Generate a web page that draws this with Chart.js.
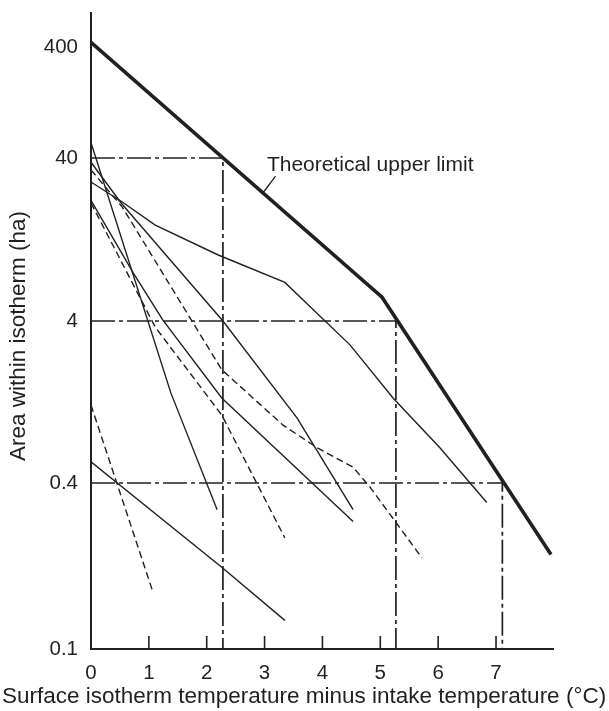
<!DOCTYPE html>
<html>
<head>
<meta charset="utf-8">
<script src="https://cdn.jsdelivr.net/npm/chart.js@4"></script>
<style>
  html, body { margin: 0; padding: 0; background: #fff; }
  #wrap { width: 609px; height: 711px; position: relative; }
</style>
</head>
<body>
<div id="wrap"><canvas id="chart"></canvas></div>
<script>
// --- Axis ticks ---
const X_TICKS = [0, 1, 2, 3, 4, 5, 6, 7];
const Y_TICKS = [0.1, 0.4, 4, 40, 400];

// --- Theoretical upper limit (thick line) ---
const LIMIT_X = [0, 5.03, 7.95];
const LIMIT_Y = [440, 5.6, 0.22];

// --- Measured curves, solid ---
const SOLID_1_X = [0, 0.54, 1.11, 2.19, 3.35, 4.48, 5.22, 6.03, 6.84];
const SOLID_1_Y = [28.5, 21.5, 15.5, 10.2, 6.9, 2.84, 1.34, 0.66, 0.34];
const SOLID_2_X = [0, 1.38, 2.18];
const SOLID_2_Y = [55, 1.44, 0.32];
const SOLID_3_X = [0, 0.52, 2.28, 3.56, 4.53];
const SOLID_3_Y = [37.7, 21.2, 4.0, 1.01, 0.32];
const SOLID_4_X = [0, 0.73, 1.24, 2.26, 4.53];
const SOLID_4_Y = [22, 7.9, 4.06, 1.34, 0.29];
const SOLID_5_X = [0, 2.26, 3.35];
const SOLID_5_Y = [0.54, 0.198, 0.127];

// --- Measured curves, dashed ---
const DASH_1_X = [0, 1.07];
const DASH_1_Y = [1.21, 0.161];
const DASH_2_X = [0, 1.11, 2.26, 3.35];
const DASH_2_Y = [21.2, 3.67, 1.05, 0.253];
const DASH_3_X = [0, 0.54, 2.26, 3.32, 3.91, 4.53, 4.82, 5.72];
const DASH_3_Y = [33.8, 20, 2.0, 0.91, 0.66, 0.50, 0.387, 0.214];

// --- Dash-dot reading lines (area level -> temperature) ---
const READ_Y = [40, 4, 0.4];
const READ_X = [2.28, 5.27, 7.11];

// --- Texts ---
const X_TITLE = 'Surface isotherm temperature minus intake temperature (°C)';
const Y_TITLE = 'Area within isotherm (ha)';
const LIMIT_LABEL = 'Theoretical upper limit';
const LIMIT_LABEL_AT = { x: 3.04, y: 36 };
const LIMIT_LEADER = [[2.97, 24.4], [3.19, 31]];

const INK = '#231f20';
const FONT = '"Liberation Sans", Arial, Helvetica, sans-serif';

// the printed y axis is log-like but each decade gets its own height
const Y_STOPS = [0, 0.261, 0.5157, 0.772, 0.9465];

class StretchedLogScale extends Chart.LinearScale {
    static id = 'stretchedLog';
    static defaults = {};

    buildTicks() {
        return Y_TICKS.map(v => ({ value: v }));
    }
    toDecimal(v) {
        const L = Y_TICKS.map(Math.log10);
        const lv = Math.log10(v);
        let i = 0;
        while (i < L.length - 2 && lv > L[i + 1]) i++;
        const t = (lv - L[i]) / (L[i + 1] - L[i]);
        return Y_STOPS[i] + t * (Y_STOPS[i + 1] - Y_STOPS[i]);
    }
    getPixelForValue(v) {
        if (v === null || !(v > 0)) return NaN;
        return this.getPixelForDecimal(this.toDecimal(v));
    }
    getValueForPixel(p) {
        const d = this.getDecimalForPixel(p);
        const L = Y_TICKS.map(Math.log10);
        let i = 0;
        while (i < Y_STOPS.length - 2 && d > Y_STOPS[i + 1]) i++;
        const t = (d - Y_STOPS[i]) / (Y_STOPS[i + 1] - Y_STOPS[i]);
        return Math.pow(10, L[i] + t * (L[i + 1] - L[i]));
    }
}
Chart.register(StretchedLogScale);

const pts = (xs, ys) => xs.map((x, i) => ({ x, y: ys[i] }));
const solid = data => ({ data, borderColor: INK, borderWidth: 1.4, pointRadius: 0, tension: 0 });
const dashed = data => ({ data, borderColor: INK, borderWidth: 1.4, borderDash: [7, 4], pointRadius: 0, tension: 0 });

const datasets = [
    { data: pts(LIMIT_X, LIMIT_Y), borderColor: INK, borderWidth: 3.6, pointRadius: 0, borderJoinStyle: 'miter' },
    solid(pts(SOLID_1_X, SOLID_1_Y)),
    solid(pts(SOLID_2_X, SOLID_2_Y)),
    solid(pts(SOLID_3_X, SOLID_3_Y)),
    solid(pts(SOLID_4_X, SOLID_4_Y)),
    solid(pts(SOLID_5_X, SOLID_5_Y)),
    dashed(pts(DASH_1_X, DASH_1_Y)),
    dashed(pts(DASH_2_X, DASH_2_Y)),
    dashed(pts(DASH_3_X, DASH_3_Y)),
];
READ_Y.forEach((yv, i) => {
    datasets.push({
        data: [{ x: 0, y: yv }, { x: READ_X[i], y: yv }, { x: READ_X[i], y: Y_TICKS[0] }],
        borderColor: INK, borderWidth: 1.7, borderDash: [24, 4, 4, 4], pointRadius: 0
    });
});

// inward x ticks, the label with its leader, and the two axis titles
const decorations = {
    id: 'decorations',
    afterDraw(chart) {
        const { ctx, chartArea, scales: { x, y } } = chart;
        ctx.save();
        ctx.strokeStyle = INK;
        ctx.fillStyle = INK;

        ctx.lineWidth = 1.6;
        X_TICKS.slice(1).forEach(v => {
            const px = x.getPixelForValue(v);
            ctx.beginPath();
            ctx.moveTo(px, chartArea.bottom);
            ctx.lineTo(px, chartArea.bottom - 13);
            ctx.stroke();
        });

        ctx.lineWidth = 1.3;
        ctx.beginPath();
        ctx.moveTo(x.getPixelForValue(LIMIT_LEADER[0][0]), y.getPixelForValue(LIMIT_LEADER[0][1]));
        ctx.lineTo(x.getPixelForValue(LIMIT_LEADER[1][0]), y.getPixelForValue(LIMIT_LEADER[1][1]));
        ctx.stroke();
        ctx.font = '21px ' + FONT;
        ctx.textAlign = 'left';
        ctx.textBaseline = 'middle';
        ctx.fillText(LIMIT_LABEL, x.getPixelForValue(LIMIT_LABEL_AT.x), y.getPixelForValue(LIMIT_LABEL_AT.y));

        ctx.textAlign = 'center';
        ctx.font = '22.5px ' + FONT;
        ctx.fillText(X_TITLE, 304, 697);
        ctx.translate(19, 336);
        ctx.rotate(-Math.PI / 2);
        ctx.fillText(Y_TITLE, 0, 0);
        ctx.restore();
    }
};

new Chart(document.getElementById('chart'), {
    type: 'line',
    data: { datasets },
    options: {
        responsive: true,
        maintainAspectRatio: false,
        animation: false,
        layout: { padding: { top: 13, right: 56, bottom: 0, left: 0 } },
        plugins: { legend: { display: false }, tooltip: { enabled: false } },
        scales: {
            x: {
                type: 'linear', min: 0, max: 7.985,
                grid: { display: false, drawTicks: false },
                border: { color: INK, width: 2 },
                ticks: { color: INK, padding: 12, font: { family: FONT, size: 20.5 }, callback: v => String(v) },
                afterBuildTicks: s => { s.ticks = X_TICKS.map(v => ({ value: v })); },
                afterFit: s => { s.height = 62; s.paddingLeft = 0; s.paddingRight = 0; }
            },
            y: {
                type: 'stretchedLog', min: 0.1, max: 800,
                grid: { display: false, drawTicks: false },
                border: { color: INK, width: 2 },
                ticks: { color: INK, padding: 13, font: { family: FONT, size: 20.5 }, callback: v => String(v) },
                afterFit: s => { s.width = 91; s.paddingTop = 0; s.paddingBottom = 0; }
            }
        }
    },
    plugins: [decorations]
});
</script>
</body>
</html>
